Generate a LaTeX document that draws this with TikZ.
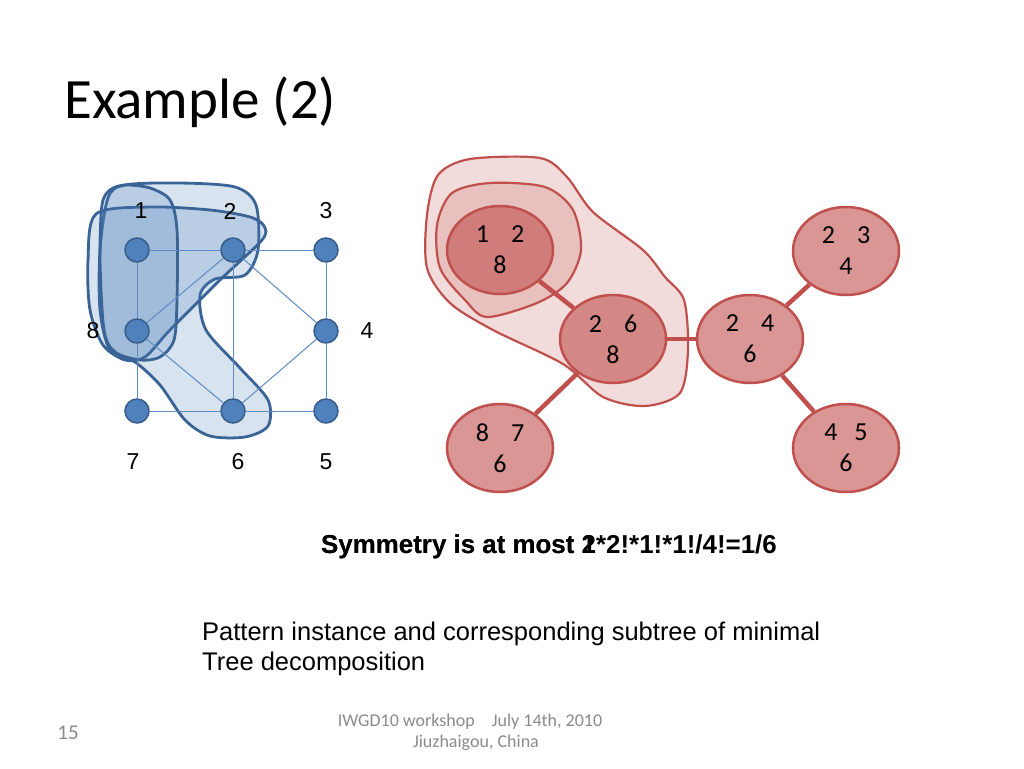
\documentclass[tikz,border=0pt]{standalone}
\usepackage{fontspec}
\setmainfont{Liberation Sans}
\newfontfamily\calibri{Carlito}
\usetikzlibrary{shapes.geometric}
\definecolor{bnode}{HTML}{4F81BD}
\definecolor{bdark}{HTML}{385D8A}
\definecolor{bedge}{HTML}{5E8BC4}
\definecolor{bline}{HTML}{3A6396}
\definecolor{rbase}{HTML}{C0504D}
\definecolor{foot}{HTML}{8B8B8B}
\begin{document}
\begin{tikzpicture}[x=1pt,y=-1pt,
 vert/.style={circle,fill=bnode,draw=bdark,line width=1.5pt,minimum size=24pt,inner sep=0},
 vlabel/.style={font=\fontsize{23}{23}\selectfont,inner sep=0},
 gedge/.style={bedge,line width=1pt},
 bblob/.style={draw=bline,line width=2.8pt,fill=bnode,fill opacity=0.22},
 rblob/.style={draw=rbase,line width=2.2pt,fill=rbase,fill opacity=0.2},
 bag/.style={ellipse,draw=rbase,line width=2.5pt,fill=rbase,fill opacity=0.6,text opacity=1,minimum width=106pt,minimum height=88pt,inner sep=0,align=center,font=\calibri\fontsize{26}{31}\selectfont},
 tedge/.style={rbase,line width=4.5pt},
 foottext/.style={font=\calibri\fontsize{18}{18}\selectfont,text=foot,inner sep=0}
]
\useasboundingbox (0,0) rectangle (1024,768);
\fill[white] (0,0) rectangle (1024,768);

% title
\node[anchor=base west,inner sep=0,font=\calibri\fontsize{57}{57}\selectfont] (title) at (64,118) {Example (2)};

% blue blobs
\draw[bblob] plot[smooth cycle] coordinates {(108,198) (125,185) (180,183) (235,187) (256,205) (258,250) (245,275) (215,279) (200,295) (206,330) (240,368) (268,400) (268,426) (245,437) (210,436) (185,420) (160,385) (135,362) (110,350) (100,310) (100,250)};
\draw[bblob] plot[smooth cycle] coordinates {(96,214) (150,207) (210,210) (250,217) (264,226) (262,240) (220,280) (170,330) (145,357) (125,360) (103,345) (90,310) (88,260)};
\draw[bblob] plot[smooth cycle] coordinates {(102,205) (110,190) (125,185) (150,188) (170,200) (177,230) (177,300) (174,340) (160,357) (140,360) (115,352) (104,330) (100,260)};

% graph vertices
\node[vert] (v1) at (137,250) {};
\node[vert] (v2) at (233,250) {};
\node[vert] (v3) at (326,250) {};
\node[vert] (v8) at (137,331) {};
\node[vert] (v4) at (326,331) {};
\node[vert] (v7) at (137,411) {};
\node[vert] (v6) at (233,411) {};
\node[vert] (v5) at (326,411) {};

\draw[gedge] (v1) -- (v2);
\draw[gedge] (v2) -- (v3);
\draw[gedge] (v1) -- (v8);
\draw[gedge] (v8) -- (v7);
\draw[gedge] (v7) -- (v6);
\draw[gedge] (v6) -- (v5);
\draw[gedge] (v5) -- (v4);
\draw[gedge] (v4) -- (v3);
\draw[gedge] (v2) -- (v6);
\draw[gedge] (v2) -- (v8);
\draw[gedge] (v2) -- (v4);
\draw[gedge] (v8) -- (v6);
\draw[gedge] (v6) -- (v4);

% vertex labels
\node[vlabel] (l1) at (141,211) {1};
\node[vlabel] (l2) at (230,211) {2};
\node[vlabel] (l3) at (326,211) {3};
\node[vlabel] (l8) at (93,331) {8};
\node[vlabel] (l4) at (367,331) {4};
\node[vlabel] (l7) at (133,462) {7};
\node[vlabel] (l6) at (238,462) {6};
\node[vlabel] (l5) at (326,462) {5};

% red blobs
\draw[rblob] plot[smooth cycle] coordinates {(427,215) (438,175) (470,159) (540,158) (567,177) (593,212) (643,250) (665,277) (684,300) (688,350) (680,393) (645,406) (603,397) (563,364) (493,330) (450,303) (427,268)};
\draw[rblob] plot[smooth cycle] coordinates {(437,225) (452,193) (490,183) (545,187) (573,210) (581,250) (567,283) (537,303) (487,317) (465,300) (440,268)};

% tree bags
\node[bag] (t1) at (500,250) {1\hspace{22pt}2\\8};
\node[bag] (t2) at (613,339) {2\hspace{22pt}6\\8};
\node[bag] (t3) at (750,339) {2\hspace{22pt}4\\6};
\node[bag] (t4) at (846,251) {2\hspace{22pt}3\\4};
\node[bag] (t5) at (846,448) {4\hspace{17pt}5\\6};
\node[bag] (t6) at (500,448) {8\hspace{22pt}7\\6};
\draw[tedge] (t1) -- (t2);
\draw[tedge] (t2) -- (t3);
\draw[tedge] (t3) -- (t4);
\draw[tedge] (t3) -- (t5);
\draw[tedge] (t2) -- (t6);

% texts
\node[anchor=base west,inner sep=0,font=\bfseries\fontsize{25.9}{26}\selectfont] (sym1) at (321,553) {Symmetry is at most 2*2!*1!*1!/4!=1/6};
\node[anchor=base west,inner sep=0,font=\bfseries\fontsize{25.9}{26}\selectfont] (sym2) at (321,553) {Symmetry is at most 1};
\node[anchor=base west,inner sep=0,font=\fontsize{25.5}{26}\selectfont] (cap1) at (202,640) {Pattern instance and corresponding subtree of minimal};
\node[anchor=base west,inner sep=0,font=\fontsize{25.5}{26}\selectfont] (cap2) at (202,670) {Tree decomposition};

% footer
\node[foottext,font=\calibri\fontsize{21}{21}\selectfont] (pg) at (68,733) {15};
\node[foottext] (f1) at (470,722) {IWGD10 workshop\hspace{17pt}July 14th, 2010};
\node[foottext] (f2) at (476,743) {Jiuzhaigou, China};
\end{tikzpicture}
\end{document}
